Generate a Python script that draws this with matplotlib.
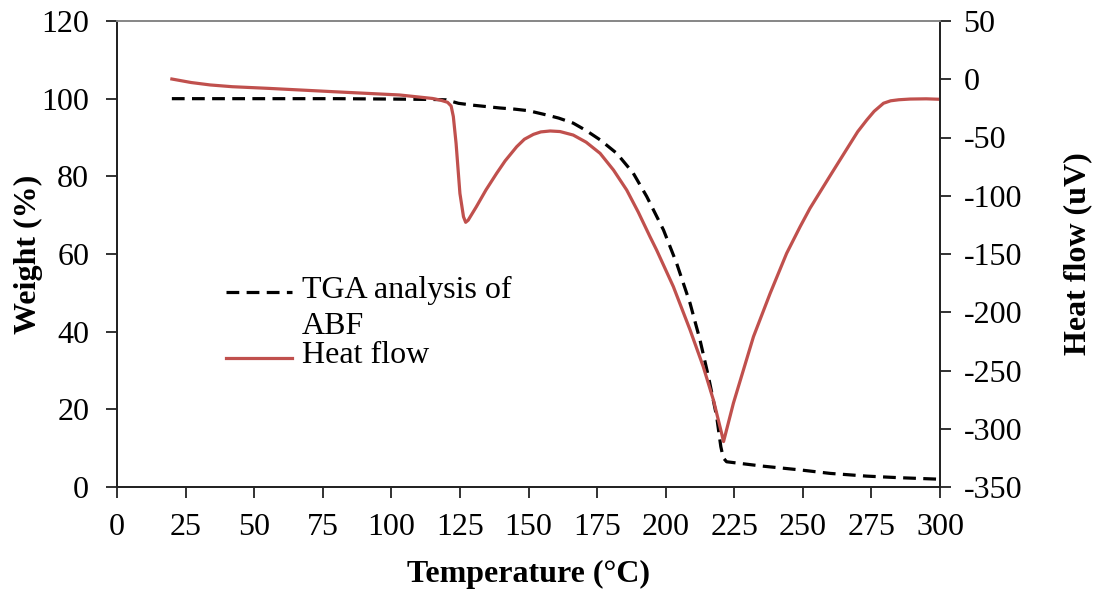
#!/usr/bin/env python3

import matplotlib
matplotlib.use("Agg")
import matplotlib.pyplot as plt
from matplotlib.lines import Line2D

# TGA weight curve (left axis)
temp_tga = [20, 40, 60, 80, 100, 115, 120, 124.5, 130, 139.6, 145, 150, 156.6, 161,
            166.3, 171, 176.1, 182.2, 188.2, 193.1, 199.2, 204, 208.9, 212.5, 215.6,
            218.6, 220.1, 221, 222.2, 235, 249, 260, 273.3, 285, 300]
weight = [100, 100, 100, 100, 99.9, 99.8, 99.7, 98.8, 98.3, 97.6, 97.3, 96.9, 95.8, 95.0,
          93.7, 91.8, 89.4, 85.9, 80.8, 74.8, 66.2, 57.6, 47.3, 37.9, 28.4,
          18.1, 10.4, 7.5, 6.5, 5.4, 4.4, 3.5, 2.8, 2.4, 2.0]

# DSC heat flow curve (right axis)
temp_hf = [20, 27, 34, 42, 55, 79, 103, 115, 118, 120.5, 121.8, 122.6, 123.6, 125,
           126.3, 127.1, 128, 131, 134.5, 138.4, 141.5, 145.7, 148.5, 151.8, 154.5,
           157.9, 161.5, 166.3, 171, 176.1, 181, 185.8, 190, 194.3, 196.7, 202.8,
           208.9, 213.7, 217.4, 220.4, 221.1, 224.7, 232, 238.1, 244.1, 249, 252.6,
           259.9, 266, 270, 273.3, 276, 279.4, 282, 285, 289.1, 295, 300]
heat_flow = [0.2, -2.8, -4.9, -6.4, -7.8, -10.7, -13.5, -16.5, -18, -19.8, -23, -32,
             -55, -98, -118, -122.8, -121, -109.4, -95, -80.7, -70, -57.9, -51.5,
             -47.3, -45.2, -44.4, -44.9, -47.9, -54, -63.6, -78, -95.1, -114, -135.2,
             -146.6, -178, -215.2, -246.7, -275.3, -304, -311, -278, -221, -183.7,
             -149.4, -126.6, -110.8, -83, -60, -45, -35, -27.5, -20.6, -18.5,
             -17.6, -17, -16.8, -17.2]

x_ticks = list(range(0, 301, 25))
left_ticks = list(range(0, 121, 20))
right_ticks = list(range(-350, 51, 50))

plt.rcParams["font.family"] = ["Liberation Serif", "DejaVu Serif"]
plt.rcParams["font.size"] = 23
plt.rcParams["axes.unicode_minus"] = False

red = "#C0504D"
W, H = 823, 466  # axes size in pixels

fig = plt.figure(figsize=(11, 5.93), dpi=100)
ax = fig.add_axes([117 / 1100, 1 - 487 / 593, W / 1100, H / 593])
ax2 = ax.twinx()

ax.plot(temp_tga, weight, color="black", linewidth=2.3, linestyle=(0, (4, 2.3)))
ax2.plot(temp_hf, heat_flow, color=red, linewidth=2.3)

ax.set_xlim(0, 300)
ax.set_ylim(0, 120)
ax2.set_ylim(-350, 50)
ax.set_xticks(x_ticks)
ax.set_yticks(left_ticks)
ax2.set_yticks(right_ticks)

for a in (ax, ax2):
    for s in a.spines.values():
        s.set_linewidth(1.3)
        s.set_color("#222222")
    a.spines["top"].set_color("#888888")
    a.tick_params(direction="out", length=8, width=1.3, color="#222222")

ax.tick_params(axis="y", pad=12)
ax.tick_params(axis="x", pad=11)
ax2.tick_params(axis="y", pad=9)
for lbl in ax2.get_yticklabels():
    lbl.set_horizontalalignment("left")

ax.set_xlabel("Temperature (°C)", fontweight="bold")
ax.set_ylabel("Weight (%)", fontweight="bold")
ax2.set_ylabel("Heat flow (uV)", fontweight="bold")
ax.xaxis.set_label_coords(0.5, (487 - 560) / H)
ax.yaxis.set_label_coords((43 - 117) / W, 0.5)
ax2.yaxis.set_label_coords((1063 - 117) / W, 0.5)

# legend drawn by hand so the dashed key sits on the first text line
lx0, lx1, tx = (226 - 117) / W, (292 - 117) / W, (302 - 117) / W
def ay(py):
    return (487 - py) / H

ax2.add_line(Line2D([lx0, lx1], [ay(292), ay(292)], transform=ax2.transAxes,
                    color="black", linewidth=2.3, linestyle=(0, (4, 2.3))))
ax2.add_line(Line2D([lx0, lx1], [ay(358), ay(358)], transform=ax2.transAxes,
                    color=red, linewidth=2.3))
ax2.text(tx, ay(298), "TGA analysis of", transform=ax2.transAxes, va="baseline")
ax2.text(tx, ay(334), "ABF", transform=ax2.transAxes, va="baseline")
ax2.text(tx, ay(363), "Heat flow", transform=ax2.transAxes, va="baseline")

fig.savefig("out.png", dpi=100)
